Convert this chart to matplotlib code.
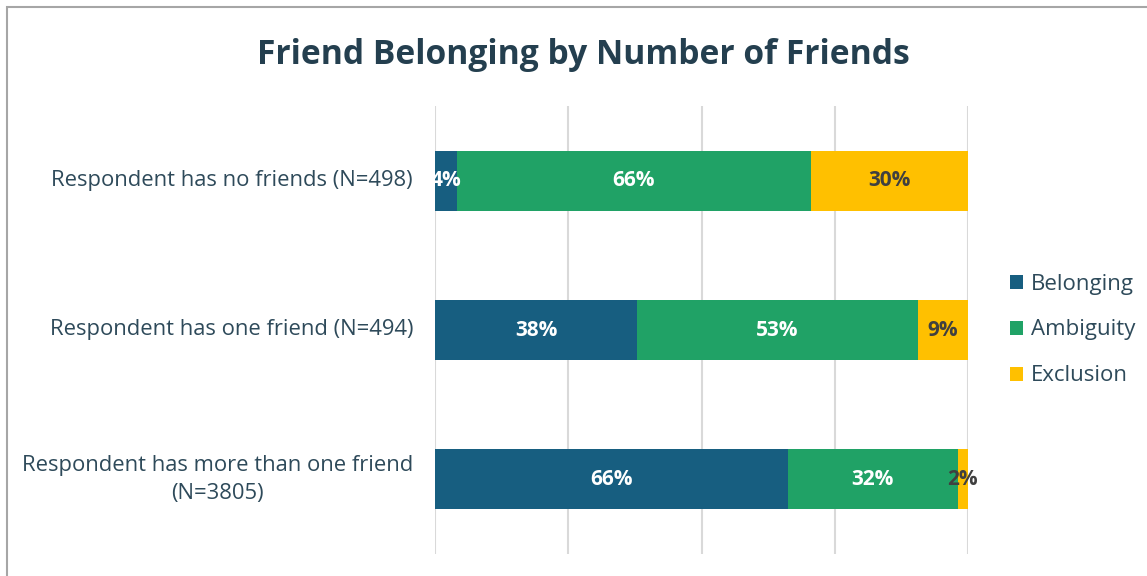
import matplotlib.pyplot as plt
import matplotlib.transforms as mtransforms
from matplotlib.patches import Rectangle

categories = ["Respondent has no friends (N=498)",
              "Respondent has one friend (N=494)",
              "Respondent has more than one friend\n(N=3805)"]
series_names = ["Belonging", "Ambiguity", "Exclusion"]
belonging = [4.1, 37.9, 66.2]
ambiguity = [66.4, 52.7, 31.9]
exclusion = [29.5, 9.4, 1.9]
series_values = [belonging, ambiguity, exclusion]
colors = ["#175E80", "#20A266", "#FFC000"]
label_colors = ["white", "white", "#404040"]

plt.rcParams['font.family'] = ['Open Sans', 'DejaVu Sans']

fig = plt.figure(figsize=(11.47, 5.76), dpi=100)
W, H = 1147, 576
ax = fig.add_axes([435 / W, 1 - 554 / H, (968 - 435) / W, (554 - 106) / H])

# outer border
fig.patches.append(Rectangle((7 / W, -0.1), 1.2, 1 - 7 / H + 0.1,
                             transform=fig.transFigure, fill=False,
                             edgecolor="#A6A6A6", linewidth=1.5))

y = list(range(len(categories)))
left = [0.0] * len(categories)
for name, vals, c, lc in zip(series_names, series_values, colors, label_colors):
    bars = ax.barh(y, vals, left=left, height=0.4, color=c, label=name, zorder=3)
    for b, v, l in zip(bars, vals, left):
        ax.text(l + v / 2, b.get_y() + b.get_height() / 2, f"{round(v):.0f}%",
                ha="center", va="center", color=lc, fontsize=15,
                fontweight="bold", zorder=4)
    left = [a + b for a, b in zip(left, vals)]

ax.set_xlim(0, 100)
ax.set_ylim(2.5, -0.5)
ax.set_xticks([0, 25, 50, 75, 100])
ax.xaxis.grid(True, color="#D9D9D9", linewidth=1.5, zorder=0)
ax.tick_params(axis="x", length=0, labelbottom=False)
ax.set_yticks([])
for s in ax.spines.values():
    s.set_visible(False)

# category labels, right edge at x ~ 412 px
blend = mtransforms.blended_transform_factory(fig.transFigure, ax.transData)
for cat, yy in zip(categories, y):
    ax.text(413 / W, yy, cat, transform=blend,
            ha="right", va="center", fontsize=15.8, color="#2E4A5A",
            multialignment="center", linespacing=1.4)

leg = ax.legend(loc="center left", bbox_to_anchor=(1001 / W, 1 - 330 / H),
                bbox_transform=fig.transFigure, frameon=False, fontsize=16,
                handlelength=0.6, handleheight=0.6, handletextpad=0.35,
                labelspacing=1.12, borderaxespad=0)
for t in leg.get_texts():
    t.set_color("#2E4A5A")

fig.text(583 / W, 1 - 55 / H, "Friend Belonging by Number of Friends",
         ha="center", va="center", fontsize=24.2, fontweight="bold",
         color="#243F4F")

fig.savefig("out.png", dpi=100)
